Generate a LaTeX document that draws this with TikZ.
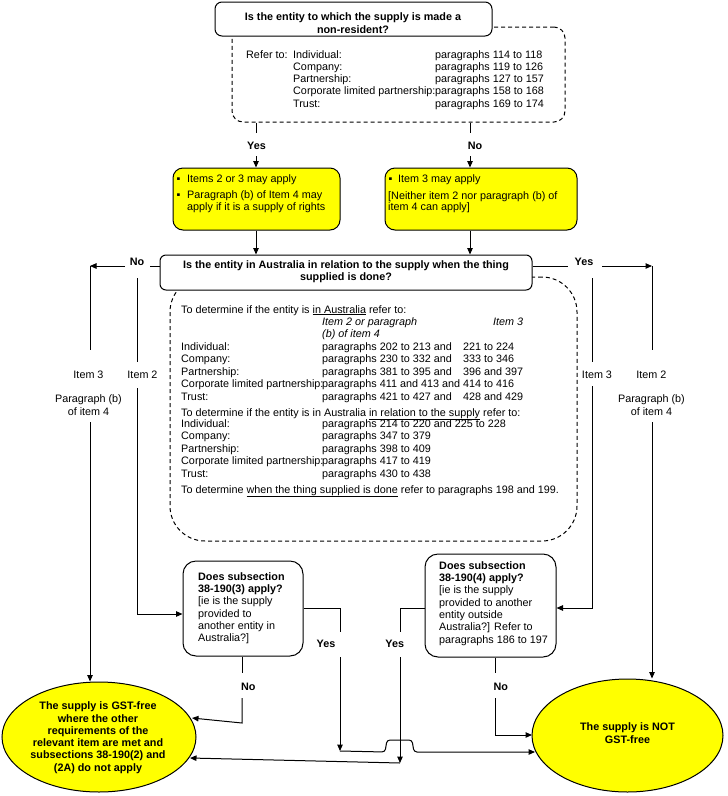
\documentclass[tikz,border=0pt]{standalone}
\usepackage{fontspec}
\setmainfont{Liberation Sans}
\usetikzlibrary{arrows.meta,shapes.geometric}
\newcommand{\fsz}{\fontsize{10.8}{12.3}\selectfont}
\definecolor{gstyellow}{RGB}{255,255,0}
\begin{document}
\begin{tikzpicture}[x=1pt,y=-1pt,
  txt/.style={inner sep=0pt, anchor=base west, font=\fsz},
  ctxt/.style={inner sep=0pt, anchor=base, font=\fsz},
  lbl/.style={inner sep=0pt, anchor=base, font=\fsz\bfseries},
  ilbl/.style={inner sep=0pt, anchor=base, font=\fsz},
  qbox/.style={draw, line width=1pt, fill=white, rounded corners=7pt, inner sep=0pt},
  ybox/.style={draw, line width=1pt, fill=gstyellow, rounded corners=10pt, inner sep=0pt},
  dbox/.style={draw, line width=1pt, dash pattern=on 4pt off 3pt, rounded corners=#1, inner sep=0pt},
  ell/.style={draw, line width=1pt, fill=gstyellow, ellipse, inner sep=0pt},
  conn/.style={line width=1pt},
  arr/.style={-{Triangle[length=6.5pt,width=5.5pt]}},
]
\useasboundingbox (0,0) rectangle (728,796);

% ---------- top question ----------
\node[dbox=11pt, minimum width=333pt, minimum height=95pt] (d1) at (398.5,74.5) {};
\node[qbox, minimum width=277pt, minimum height=34pt] (q1) at (353.5,19) {};
\node[ctxt, font=\fsz\bfseries] (q1a) at (353,20) {Is the entity to which the supply is made a};
\begin{scope}
  \clip (215,2) rectangle (492,32);
  \node[ctxt, font=\fsz\bfseries] (q1b) at (353,33.8) {non-resident?};
\end{scope}
\node[txt] (refer) at (246,58) {Refer to:};
\foreach \lab/\pa [count=\i from 0] in {Individual:/114 to 118,Company:/119 to 126,Partnership:/127 to 157,Corporate limited partnership:/158 to 168,Trust:/169 to 174}{
  \node[txt] (ka\i) at (293,{58+12.3*\i}) {\lab};
  \node[txt] (kb\i) at (435,{58+12.3*\i}) {paragraphs \pa};
}

% ---------- yellow boxes ----------
\node[ybox, minimum width=167pt, minimum height=62pt] (y1) at (256.5,199) {};
\node[ybox, minimum width=192pt, minimum height=62pt] (y2) at (481,199) {};
\node[txt] (y1b1) at (176.5,182) {▪};
\node[txt] (y1t1) at (187,182) {Items 2 or 3 may apply};
\node[txt] (y1b2) at (176.5,198.5) {▪};
\node[txt] (y1t2) at (187,198.5) {Paragraph (b) of Item 4 may};
\node[txt] (y1t3) at (187,210.5) {apply if it is a supply of rights};
\node[txt] (y2b1) at (388.5,182) {▪};
\node[txt] (y2t1) at (398,182) {Item 3 may apply};
\node[txt] (y2t2) at (388,199) {[Neither item 2 nor paragraph (b) of};
\node[txt] (y2t3) at (388,210.5) {item 4 can apply]};

% ---------- second question ----------
\node[dbox=35pt, minimum width=407pt, minimum height=264pt] (d2) at (373.5,409) {};
\node[qbox, rounded corners=6pt, minimum width=372pt, minimum height=35pt] (q2) at (346,272.5) {};
\node[ctxt, font=\fsz\bfseries] (q2a) at (346,268) {Is the entity in Australia in relation to the supply when the thing};
\node[ctxt, font=\fsz\bfseries] (q2b) at (346,280.5) {supplied is done?};

\node[txt] (s1) at (181,313) {To determine if the entity is \underline{in Australia} refer to:};
\node[txt, font=\fsz\itshape] (s2a) at (322,325) {Item 2 or paragraph};
\node[txt, font=\fsz\itshape] (s2b) at (493,325) {Item 3};
\node[txt, font=\fsz\itshape] (s3) at (322,337) {(b) of item 4};
\foreach \lab/\pa/\pb [count=\i from 0] in {Individual:/202 to 213 and/221 to 224,Company:/230 to 332 and/333 to 346,Partnership:/381 to 395 and/396 and 397,Corporate limited partnership:/411 and 413 and/414 to 416,Trust:/421 to 427 and/428 and 429}{
  \node[txt] (ma\i) at (181,{350+12.5*\i}) {\lab};
  \node[txt] (mb\i) at (322,{350+12.5*\i}) {paragraphs \pa};
  \node[txt] (mc\i) at (463,{350+12.5*\i}) {\pb};
}
\node[txt] (s9) at (181,416) {To determine if the entity is in Australia \underline{in relation to the supply} refer to:};
\foreach \lab/\pa [count=\i from 0] in {Individual:/214 to 220 and 225 to 228,Company:/347 to 379,Partnership:/398 to 409,Corporate limited partnership:/417 to 419,Trust:/430 to 438}{
  \node[txt] (na\i) at (181,{427.5+12.4*\i}) {\lab};
  \node[txt] (nb\i) at (322,{427.5+12.4*\i}) {paragraphs \pa};
}
\node[txt] (s15) at (181,493) {To determine \underline{when the thing supplied is done} refer to paragraphs 198 and 199.};

% ---------- subsection boxes ----------
\node[qbox, rounded corners=13pt, minimum width=120pt, minimum height=95pt] (b3) at (243,608.5) {};
\node[anchor=north west, align=left, inner sep=0pt, font=\fsz] (b3t) at (198,572.3)
  {\textbf{Does subsection}\\\textbf{38-190(3) apply?}\\{}[ie is the supply\\provided to\\another entity in\\Australia?]};
\node[qbox, rounded corners=13pt, minimum width=131pt, minimum height=103pt] (b4) at (490.5,605.5) {};
\node[anchor=north west, align=left, inner sep=0pt, font=\fsz] (b4t) at (439,561.2)
  {\textbf{Does subsection}\\\textbf{38-190(4) apply?}\\{}[ie is the supply\\provided to another\\entity outside\\Australia?] Refer to\\paragraphs 186 to 197};

% ---------- outcomes ----------
\node[ell, minimum width=194pt, minimum height=110pt] (eL) at (99,737) {};
\node[align=center, inner sep=0pt, font=\fsz\bfseries] (eLt) at (98,737.7)
  {The supply is GST-free\\where the other\\requirements of the\\relevant item are met and\\subsections 38-190(2) and\\(2A) do not apply};
\node[ell, minimum width=191pt, minimum height=113pt] (eR) at (627.5,735.5) {};
\node[align=center, inner sep=0pt, font=\fsz\bfseries] (eRt) at (627.5,733)
  {The supply is NOT\\GST-free};

% ---------- labels ----------
\node[lbl] (tY) at (256.5,149.3) {Yes};
\node[lbl] (tN) at (475,149.3) {No};
\node[lbl] (lN) at (137,265.5) {No};
\node[lbl] (rY) at (584,265) {Yes};
\node[ilbl] (lI3) at (88.5,378) {Item 3};
\node[ilbl] (lP1) at (88.5,402.7) {Paragraph (b)};
\node[ilbl] (lP2) at (88.5,415.4) {of item 4};
\node[ilbl] (lI2) at (142.5,378) {Item 2};
\node[ilbl] (rI3) at (597,378) {Item 3};
\node[ilbl] (rI2) at (651.3,378) {Item 2};
\node[ilbl] (rP1) at (651.5,402.7) {Paragraph (b)};
\node[ilbl] (rP2) at (651.5,415.4) {of item 4};
\node[lbl] (b3Y) at (326,647.7) {Yes};
\node[lbl] (b4Y) at (394.7,647.7) {Yes};
\node[lbl] (b3N) at (248.3,690.3) {No};
\node[lbl] (b4N) at (500.7,690.3) {No};

% ---------- connector waypoints ----------
\coordinate (tYa) at (256,133); \coordinate (tYb) at (256,156);
\coordinate (tNa) at (470,133); \coordinate (tNb) at (470,156);
\coordinate (lNa) at (150,266); \coordinate (lNb) at (125,266); \coordinate (lC) at (90,266);
\coordinate (l3a) at (90,350); \coordinate (l3b) at (90,422);
\coordinate (l2a) at (137,278); \coordinate (l2b) at (137,362); \coordinate (l2c) at (137,388); \coordinate (l2d) at (137,614);
\coordinate (rYa) at (568,266); \coordinate (rYb) at (602,266); \coordinate (rC) at (652,266);
\coordinate (r2a) at (652,350); \coordinate (r2b) at (652,422);
\coordinate (r3a) at (592,278); \coordinate (r3b) at (592,362); \coordinate (r3c) at (592,386); \coordinate (r3d) at (592,608);
\coordinate (b3Na) at (242,673); \coordinate (b3Nb) at (242,698); \coordinate (b3Nc) at (242,723); \coordinate (b3Nd) at (192,718);
\coordinate (b3Ya) at (340,608); \coordinate (b3Yb) at (340,632); \coordinate (b3Yc) at (340,657); \coordinate (b3Yd) at (340,751);
\coordinate (eRa) at (535,752);
\coordinate (b4Ya) at (400,608); \coordinate (b4Yb) at (400,632); \coordinate (b4Yc) at (400,657); \coordinate (b4Yd) at (400,763);
\coordinate (eLa) at (190,758);
\coordinate (b4Na) at (495,673); \coordinate (b4Nb) at (495,698); \coordinate (b4Nc) at (495,735); \coordinate (b4Nd) at (532,735);

% ---------- connectors ----------
\draw[conn] (d1.south -| tYa) -- (tYa);
\draw[conn,arr] (tYb) -- (y1.north -| tYb);
\draw[conn] (d1.south -| tNa) -- (tNa);
\draw[conn,arr] (tNb) -- (y2.north -| tNb);
\draw[conn,arr] (y1.south -| tYa) -- (q2.north -| tYa);
\draw[conn,arr] (y2.south -| tNa) -- (q2.north -| tNa);

\draw[conn] (q2.west |- lNa) -- (lNa);
\draw[conn,arr] (lNb) -- (lC);
\draw[conn] (lC) -- (l3a);
\draw[conn,arr] (l3b) -- (eL.north -| l3b);
\draw[conn] (l2a) -- (l2b);
\draw[conn,arr] (l2c) -- (l2d) -- (b3.west |- l2d);

\draw[conn] (q2.east |- rYa) -- (rYa);
\draw[conn,arr] (rYb) -- (rC);
\draw[conn] (rC) -- (r2a);
\draw[conn,arr] (r2b) -- (eR.north -| r2b);
\draw[conn] (r3a) -- (r3b);
\draw[conn,arr] (r3c) -- (r3d) -- (b4.east |- r3d);

\draw[conn] (b3.south -| b3Na) -- (b3Na);
\draw[conn,arr] (b3Nb) -- (b3Nc) -- (b3Nd);
\draw[conn] (b3.east |- b3Ya) -- (b3Ya) -- (b3Yb);
\draw[conn,arr] (b3Yc) -- (b3Yd);
\draw[conn,arr,rounded corners=3pt] (b3Yd) -- (385,752) -- (387,740) -- (412,740) -- (414,752) -- (eRa);

\draw[conn] (b4.west |- b4Ya) -- (b4Ya) -- (b4Yb);
\draw[conn,arr] (b4Yc) -- (b4Yd);
\draw[conn,arr] (b4Yd) -- (eLa);
\draw[conn] (b4.south -| b4Na) -- (b4Na);
\draw[conn,arr] (b4Nb) -- (b4Nc) -- (b4Nd);
\end{tikzpicture}
\end{document}
